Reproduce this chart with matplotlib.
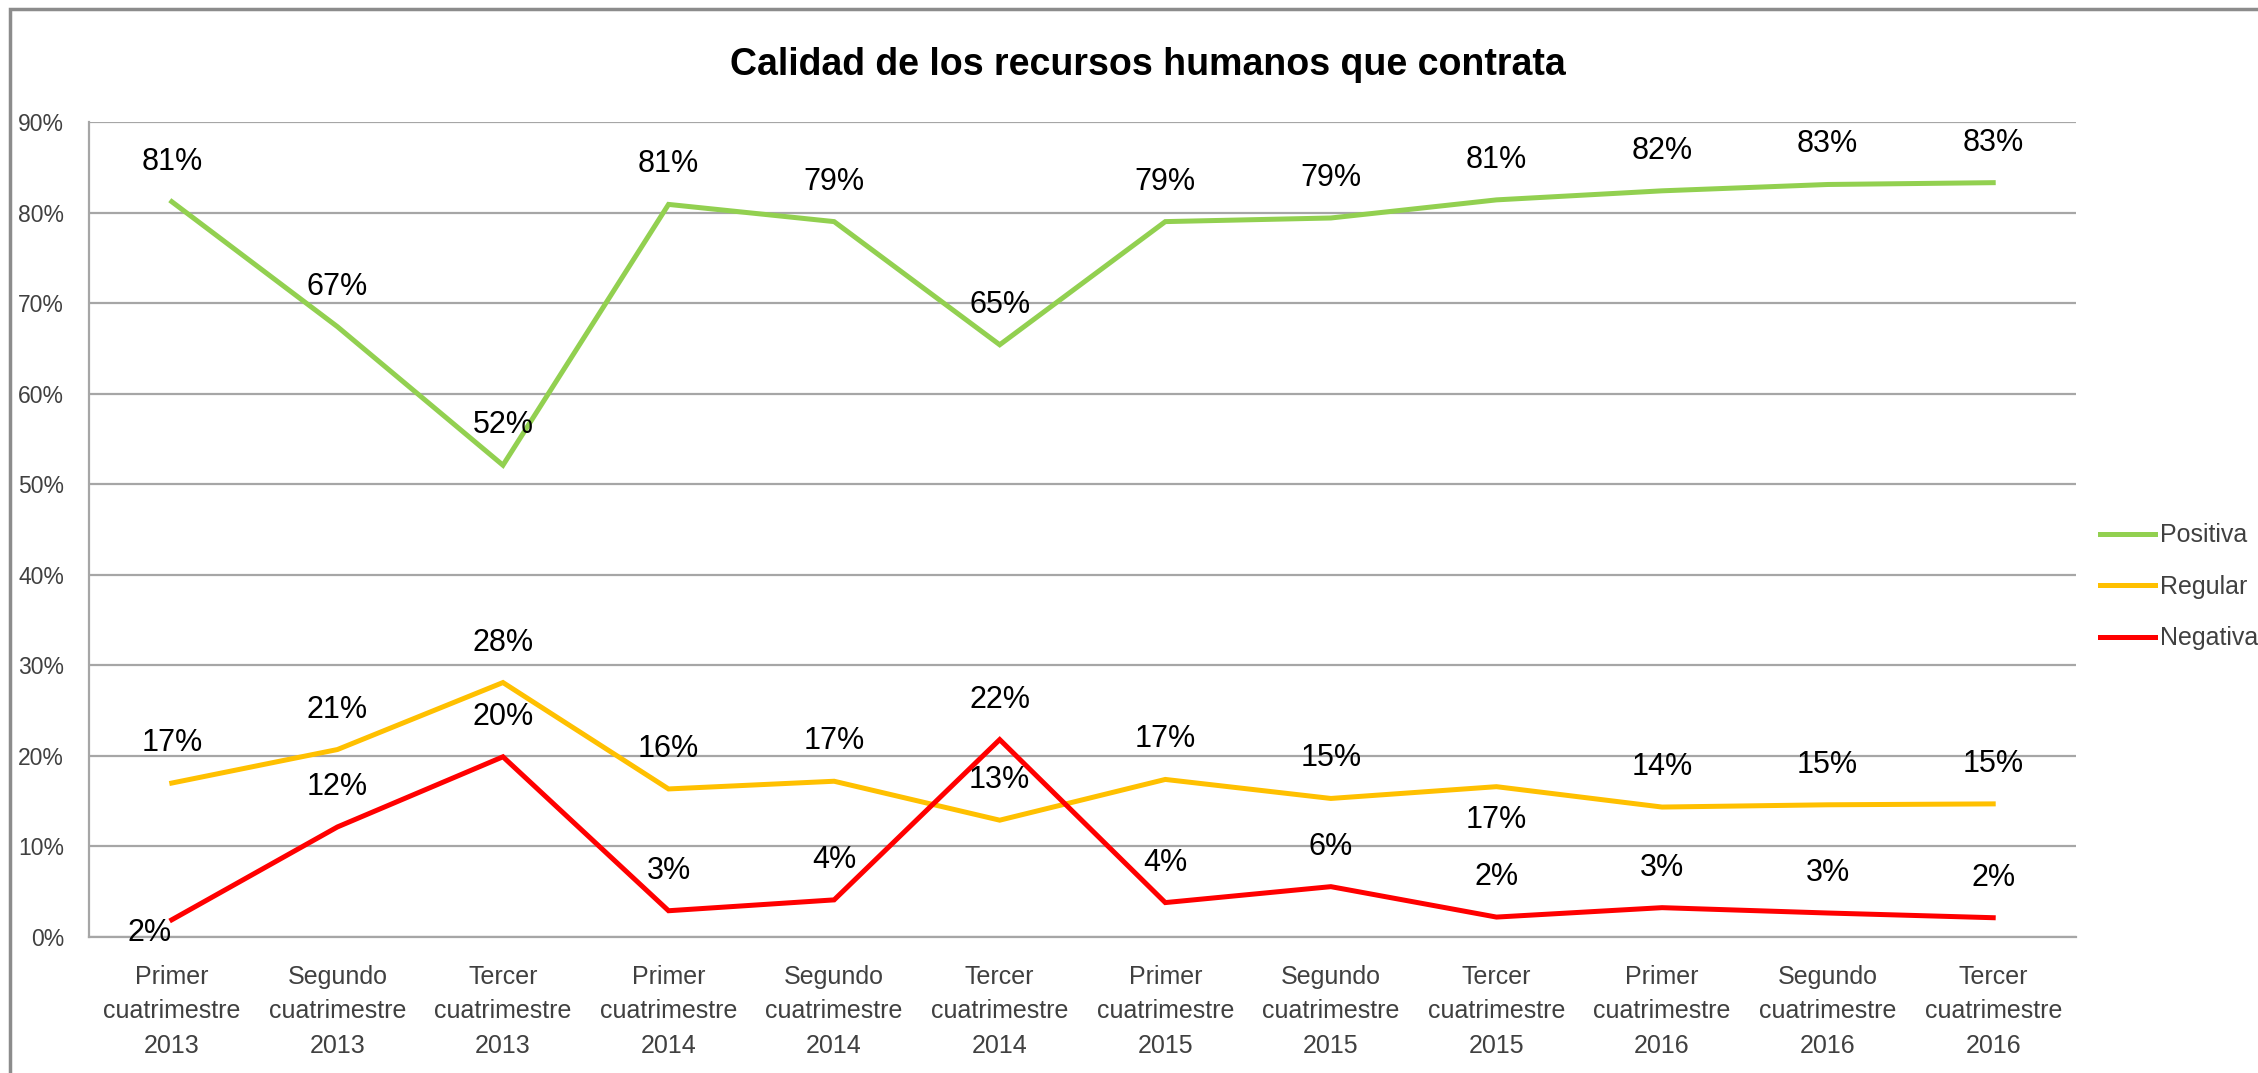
import matplotlib
matplotlib.use("Agg")
import matplotlib.pyplot as plt
from matplotlib import font_manager
from matplotlib.lines import Line2D
from matplotlib.patches import Rectangle

names = {f.name for f in font_manager.fontManager.ttflist}
FONT = "Liberation Sans Narrow" if "Liberation Sans Narrow" in names else "Liberation Sans"
plt.rcParams["font.family"] = [FONT, "DejaVu Sans"]

categories = [
    "Primer\ncuatrimestre\n2013", "Segundo\ncuatrimestre\n2013", "Tercer\ncuatrimestre\n2013",
    "Primer\ncuatrimestre\n2014", "Segundo\ncuatrimestre\n2014", "Tercer\ncuatrimestre\n2014",
    "Primer\ncuatrimestre\n2015", "Segundo\ncuatrimestre\n2015", "Tercer\ncuatrimestre\n2015",
    "Primer\ncuatrimestre\n2016", "Segundo\ncuatrimestre\n2016", "Tercer\ncuatrimestre\n2016",
]
positiva = [0.812, 0.674, 0.521, 0.809, 0.790, 0.654, 0.790, 0.794, 0.814, 0.824, 0.831, 0.833]
regular = [0.170, 0.207, 0.281, 0.1635, 0.172, 0.129, 0.174, 0.153, 0.166, 0.1435, 0.146, 0.147]
negativa = [0.019, 0.1215, 0.199, 0.029, 0.041, 0.218, 0.038, 0.0556, 0.022, 0.0324, 0.0265, 0.0213]
series_names = ["Positiva", "Regular", "Negativa"]
yticks = [0, 0.1, 0.2, 0.3, 0.4, 0.5, 0.6, 0.7, 0.8, 0.9]
title = "Calidad de los recursos humanos que contrata"

colors = ["#92D050", "#FFC000", "#FF0000"]
W, H = 2258, 1073
fig = plt.figure(figsize=(W / 100, H / 100), dpi=100)
ax = fig.add_axes([89 / W, 1 - 937 / H, (2076 - 89) / W, (937 - 122) / H])

# outer chart border
fig.patches.append(Rectangle((10 / W, -0.05), 1.2, 1 - 9 / H + 0.05, transform=fig.transFigure,
                             fill=False, edgecolor="#8c8c8c", linewidth=2.5, zorder=0))

x = list(range(len(categories)))
all_series = [positiva, regular, negativa]
for vals, c, n in zip(all_series, colors, series_names):
    ax.plot(x, vals, color=c, linewidth=3.6, label=n, solid_joinstyle="miter", zorder=3)

# data labels (offsets in pixels)
default_off = (0, 40)
special = {(2, 0): (-22, -13), (1, 8): (0, -33)}
for si, vals in enumerate(all_series):
    for i, v in enumerate(vals):
        dx, dy = special.get((si, i), default_off)
        ax.annotate(f"{v * 100:.0f}%", (i, v), xytext=(dx, dy), textcoords="offset pixels",
                    ha="center", va="center", fontsize=22, color="black", zorder=4)

ax.set_xlim(-0.5, len(categories) - 0.5)
ax.set_ylim(0, 0.9)
ax.set_yticks(yticks)
ax.set_yticklabels([f"{t * 100:.0f}%" for t in yticks], fontsize=16.5, color="#404040")
ax.set_xticks(x)
ax.set_xticklabels(categories, fontsize=18, color="#404040", linespacing=1.55)
ax.tick_params(axis="both", length=0)
ax.tick_params(axis="y", pad=18)
ax.tick_params(axis="x", pad=20)
ax.grid(axis="y", color="#a6a6a6", linewidth=1.6, zorder=1)
for s in ["top", "right"]:
    ax.spines[s].set_visible(False)
for s in ["left", "bottom"]:
    ax.spines[s].set_color("#a6a6a6")
    ax.spines[s].set_linewidth(1.6)

fig.text(1148 / W, 1 - 65 / H, title, ha="center", va="center", fontsize=27, fontweight="bold")

handles = [Line2D([0], [0], color=c, linewidth=3.6) for c in colors]
leg = fig.legend(handles, series_names, loc="center left", bbox_to_anchor=(2100 / W, 1 - 587 / H),
                 frameon=False, fontsize=18, handlelength=2.2, handletextpad=0.2, labelspacing=1.1,
                 borderaxespad=0, borderpad=0)
for t in leg.get_texts():
    t.set_color("#404040")

fig.savefig("out.png", dpi=100)
